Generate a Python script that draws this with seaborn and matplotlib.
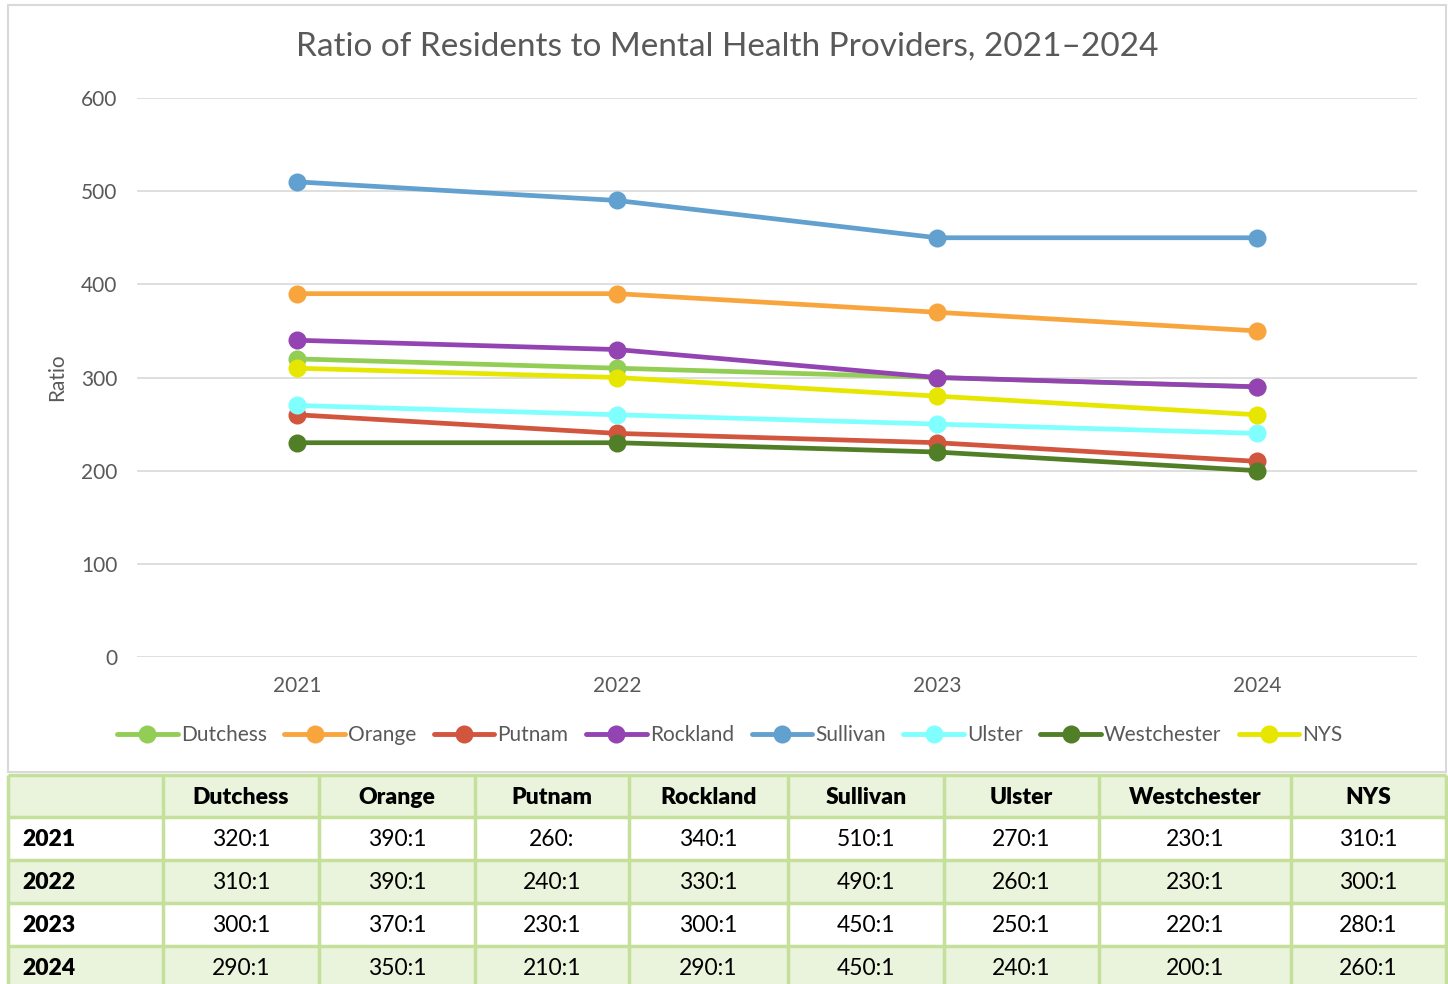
import matplotlib.pyplot as plt
import matplotlib.patches as mpatches
import pandas as pd
import seaborn as sns

YEARS = ["2021", "2022", "2023", "2024"]
REGIONS = ["Dutchess", "Orange", "Putnam", "Rockland", "Sullivan", "Ulster", "Westchester", "NYS"]
DUTCHESS = [320, 310, 300, 290]
ORANGE = [390, 390, 370, 350]
PUTNAM = [260, 240, 230, 210]
ROCKLAND = [340, 330, 300, 290]
SULLIVAN = [510, 490, 450, 450]
ULSTER = [270, 260, 250, 240]
WESTCHESTER = [230, 230, 220, 200]
NYS = [310, 300, 280, 260]
# table text as printed (Putnam 2021 is shown without the ":1")
TABLE_TEXT = {
    "2021": ["320:1", "390:1", "260:", "340:1", "510:1", "270:1", "230:1", "310:1"],
    "2022": ["310:1", "390:1", "240:1", "330:1", "490:1", "260:1", "230:1", "300:1"],
    "2023": ["300:1", "370:1", "230:1", "300:1", "450:1", "250:1", "220:1", "280:1"],
    "2024": ["290:1", "350:1", "210:1", "290:1", "450:1", "240:1", "200:1", "260:1"],
}
COLORS = ["#92CD55", "#F8A53E", "#D2553D", "#9343B2", "#62A0CF", "#80FFFF", "#517F27", "#E6E600"]

sns.set_theme(style="white")
plt.rcParams["font.family"] = ["Lato", "DejaVu Sans"]

W, H = 1448, 984
fig = plt.figure(figsize=(W / 100, H / 100), dpi=100)

# chart frame
fig.patches.append(mpatches.Rectangle((8 / W, 1 - 772 / H), 1438 / W, 767 / H, transform=fig.transFigure,
                                      facecolor="none", edgecolor="#D9D9D9", linewidth=1.5, zorder=-1))

series = [DUTCHESS, ORANGE, PUTNAM, ROCKLAND, SULLIVAN, ULSTER, WESTCHESTER, NYS]
df = pd.DataFrame(
    [(y, r, v) for r, vals in zip(REGIONS, series) for y, v in zip(YEARS, vals)],
    columns=["Year", "Region", "Ratio"],
)

ax = fig.add_axes([137 / W, 1 - 657 / H, 1280 / W, 559 / H])
ax.patch.set_alpha(0)
sns.lineplot(data=df, x="Year", y="Ratio", hue="Region", hue_order=REGIONS, palette=COLORS,
             marker="o", markersize=13, markeredgewidth=0, linewidth=3.4, sort=False, ax=ax, legend=True)
ax.set_xlim(-0.5, 3.5)
ax.set_ylim(0, 600)
ax.set_yticks(range(0, 601, 100))
ax.grid(axis="y", color="#D9D9D9", linewidth=1.2)
ax.set_axisbelow(True)
for s in ax.spines.values():
    s.set_visible(False)
ax.tick_params(axis="both", length=0, labelsize=15, labelcolor="#595959")
ax.tick_params(axis="y", pad=14)
ax.tick_params(axis="x", pad=14)
ax.set_xlabel("")
ax.set_ylabel("Ratio", fontsize=15, color="#595959", labelpad=10)
fig.text(727 / W, 1 - 47 / H, "Ratio of Residents to Mental Health Providers, 2021\u20132024", fontsize=24,
         color="#595959", ha="center", va="center")

handles, labels = ax.get_legend_handles_labels()
for h in handles:
    h.set_markersize(13)
    h.set_linewidth(3.5)
ax.get_legend().remove()
fig.legend(handles, labels, loc="center", bbox_to_anchor=(730 / W, 1 - 735 / H), ncol=8, frameon=False,
           fontsize=15, labelcolor="#595959", handlelength=2.9, handletextpad=0.15, columnspacing=0.85)

# data table
col_edges = [8, 163, 319, 475, 629, 788, 944, 1099, 1291, 1446]
row_edges = [775, 817, 860, 903, 946, 989]
border = "#C5E09B"
light = "#EAF3DC"
tab = fig.add_axes([0, 0, 1, 1])
tab.set_xlim(0, W)
tab.set_ylim(H, 0)
tab.axis("off")
rows = [[""] + REGIONS] + [[y] + TABLE_TEXT[y] for y in YEARS]
for i, row in enumerate(rows):
    y0, y1 = row_edges[i], row_edges[i + 1]
    bg = light if i % 2 == 0 else "white"
    tab.add_patch(mpatches.Rectangle((col_edges[0], y0), col_edges[-1] - col_edges[0], y1 - y0,
                                     facecolor=bg, edgecolor="none"))
    for j, txt in enumerate(row):
        x0, x1 = col_edges[j], col_edges[j + 1]
        bold = i == 0 or j == 0
        if j == 0:
            tab.text(x0 + 14, (y0 + y1) / 2 + 1, txt, ha="left", va="center", fontsize=16.5,
                     fontweight="heavy", color="black")
        else:
            tab.text((x0 + x1) / 2, (y0 + y1) / 2 + 1, txt, ha="center", va="center", fontsize=16.5,
                     fontweight="heavy" if bold else "normal", color="black")
for x in col_edges:
    tab.plot([x, x], [row_edges[0], row_edges[-1]], color=border, linewidth=2.5, solid_capstyle="butt")
for y in row_edges:
    tab.plot([col_edges[0], col_edges[-1]], [y, y], color=border, linewidth=2.5, solid_capstyle="butt")

fig.savefig("out.png", dpi=100)
